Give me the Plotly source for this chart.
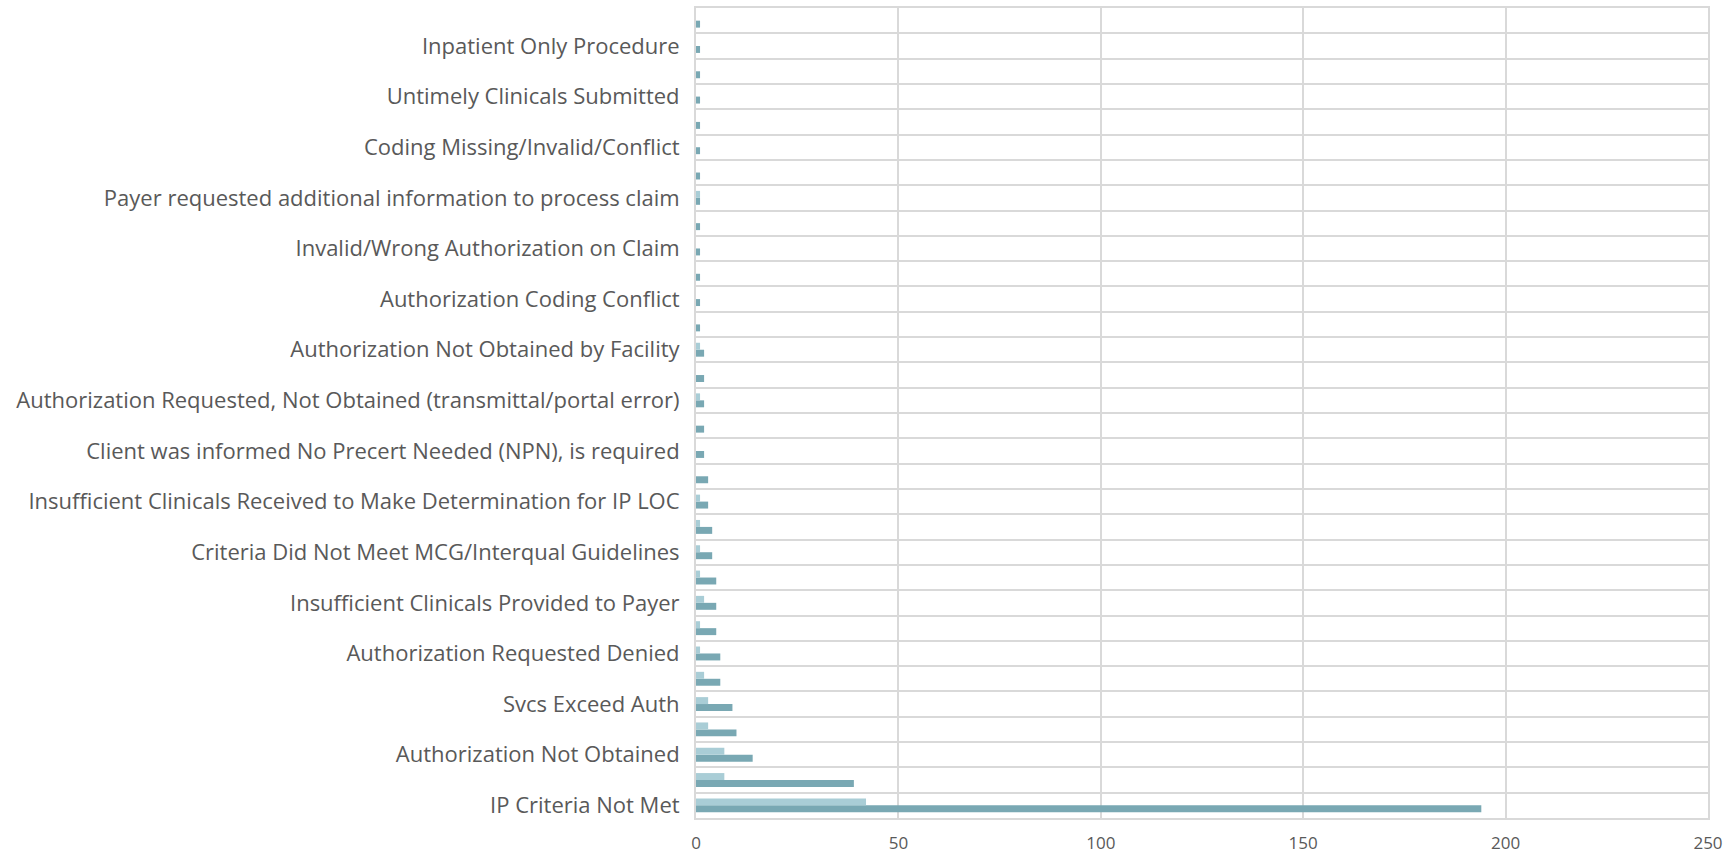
import plotly.graph_objects as go

# Denial reasons, bottom row first; labels sit on every other row
reason_labels = [
    "IP Criteria Not Met",
    "Authorization Not Obtained",
    "Svcs Exceed Auth",
    "Authorization Requested Denied",
    "Insufficient Clinicals Provided to Payer",
    "Criteria Did Not Meet MCG/Interqual Guidelines",
    "Insufficient Clinicals Received to Make Determination for IP LOC",
    "Client was informed No Precert Needed (NPN), is required",
    "Authorization Requested, Not Obtained (transmittal/portal error)",
    "Authorization Not Obtained by Facility",
    "Authorization Coding Conflict",
    "Invalid/Wrong Authorization on Claim",
    "Payer requested additional information to process claim",
    "Coding Missing/Invalid/Conflict",
    "Untimely Clinicals Submitted",
    "Inpatient Only Procedure",
]
label_rows = [0, 2, 4, 6, 8, 10, 12, 14, 16, 18, 20, 22, 24, 26, 28, 30]

rows = list(range(32))
series_dark = [194, 39, 14, 10, 9, 6, 6, 5, 5, 5, 4, 4, 3, 3, 2, 2,
               2, 2, 2, 1, 1, 1, 1, 1, 1, 1, 1, 1, 1, 1, 1, 1]
series_light = [42, 7, 7, 3, 3, 2, 1, 1, 2, 1, 1, 1, 1, 0, 0, 0,
                1, 0, 1, 0, 0, 0, 0, 0, 1, 0, 0, 0, 0, 0, 0, 0]

x_ticks = [0, 50, 100, 150, 200, 250]

DARK = "#79a8b3"
LIGHT = "#a9cdd6"
GRID = "#d9d9d9"
TEXT = "#595959"

fig = go.Figure()
fig.add_trace(go.Bar(y=rows, x=series_dark, orientation="h",
                     marker=dict(color=DARK, line=dict(width=0)), showlegend=False))
fig.add_trace(go.Bar(y=rows, x=series_light, orientation="h",
                     marker=dict(color=LIGHT, line=dict(width=0)), showlegend=False))

fig.update_layout(
    width=1725, height=856,
    margin=dict(l=696, r=17, t=8, b=38),
    paper_bgcolor="white", plot_bgcolor="white",
    barmode="group", bargap=0.45, bargroupgap=0,
    font=dict(family="Open Sans, sans-serif", color=TEXT),
    xaxis=dict(
        range=[0, 250], tickvals=x_ticks, ticktext=[str(v) for v in x_ticks],
        showgrid=True, gridcolor=GRID, gridwidth=2,
        showline=True, linecolor=GRID, linewidth=2, mirror=True,
        zeroline=False, ticks="", tickfont=dict(size=17, color=TEXT),
        ticklabelstandoff=9, automargin=False,
    ),
    yaxis=dict(
        range=[-0.5, 31.5], tickmode="array", tickvals=label_rows,
        ticktext=reason_labels, showgrid=False,
        showline=True, linecolor=GRID, linewidth=2, mirror=True,
        zeroline=False, ticks="", tickfont=dict(size=22, color=TEXT),
        ticklabelstandoff=10, automargin=False,
        minor=dict(tickmode="linear", tick0=-0.5, dtick=1, showgrid=True,
                   gridcolor=GRID, gridwidth=2, ticks=""),
    ),
)

fig.write_html("out.html")
